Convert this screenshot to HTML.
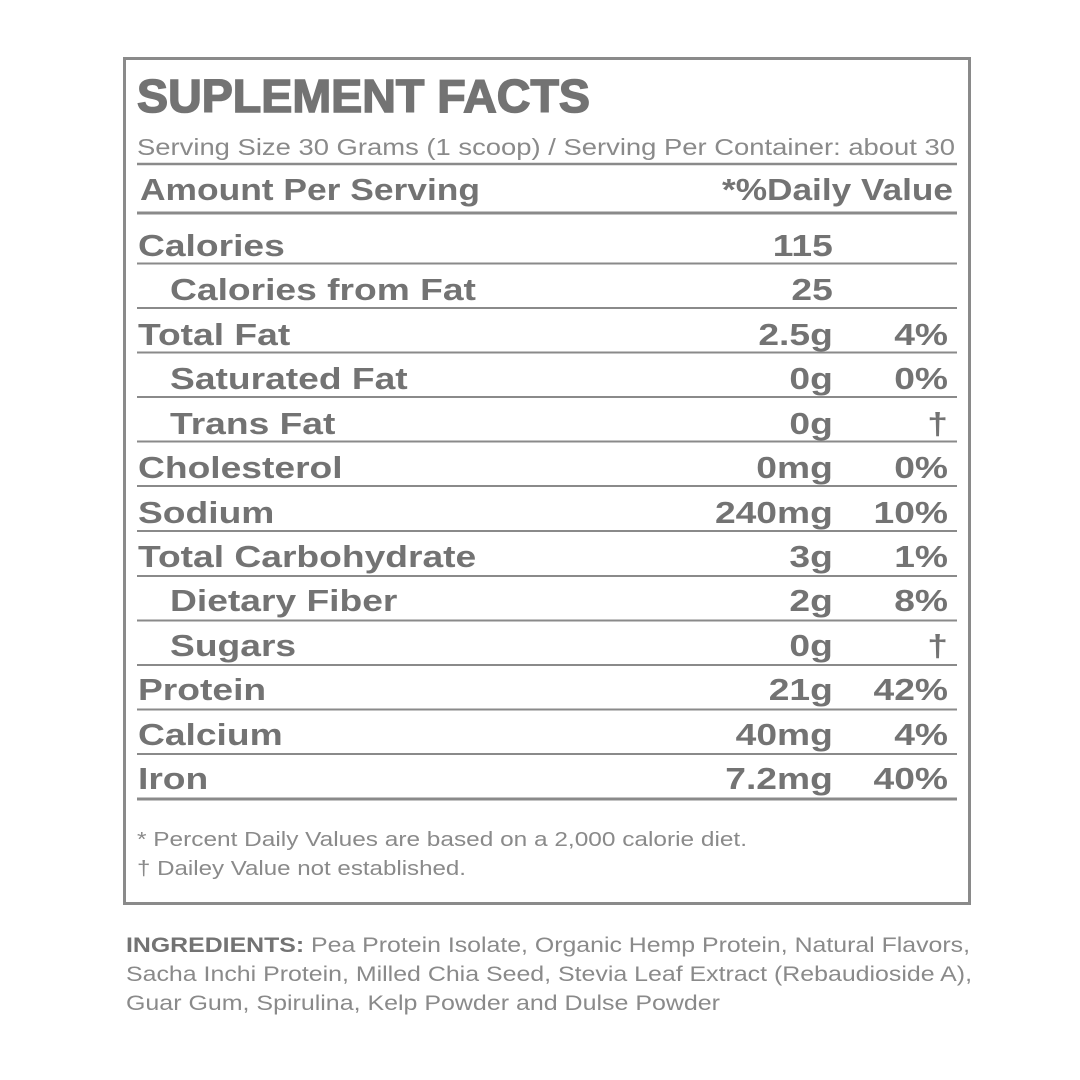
<!DOCTYPE html>
<html><head><meta charset="utf-8"><style>html,body{margin:0;padding:0;background:#fff}svg{display:block}</style></head><body>
<svg width="1080" height="1080" viewBox="0 0 1080 1080" xmlns="http://www.w3.org/2000/svg" font-family="Liberation Sans, sans-serif" fill="#737373">
<rect x="124.5" y="58.5" width="845" height="845" fill="none" stroke="#8a8a8a" stroke-width="3"/>
<text x="137" y="112" font-size="46" font-weight="bold" textLength="453" lengthAdjust="spacingAndGlyphs" stroke="#737373" stroke-width="1.5">SUPLEMENT FACTS</text>
<text x="137" y="155" font-size="23" textLength="818" lengthAdjust="spacingAndGlyphs" fill="#8a8a8a">Serving Size 30 Grams (1 scoop) / Serving Per Container: about 30</text>
<g stroke="#8a8a8a">
<line x1="137" x2="957" y1="164" y2="164" stroke-width="2.5"/>
<line x1="137" x2="957" y1="213" y2="213" stroke-width="3"/>
<line x1="137" x2="957" y1="263.5" y2="263.5" stroke-width="2"/>
<line x1="137" x2="957" y1="308" y2="308" stroke-width="2"/>
<line x1="137" x2="957" y1="352.5" y2="352.5" stroke-width="2"/>
<line x1="137" x2="957" y1="397" y2="397" stroke-width="2"/>
<line x1="137" x2="957" y1="441.5" y2="441.5" stroke-width="2"/>
<line x1="137" x2="957" y1="486" y2="486" stroke-width="2"/>
<line x1="137" x2="957" y1="531" y2="531" stroke-width="2"/>
<line x1="137" x2="957" y1="576" y2="576" stroke-width="2"/>
<line x1="137" x2="957" y1="620.5" y2="620.5" stroke-width="2"/>
<line x1="137" x2="957" y1="665" y2="665" stroke-width="2"/>
<line x1="137" x2="957" y1="709.5" y2="709.5" stroke-width="2"/>
<line x1="137" x2="957" y1="754" y2="754" stroke-width="2"/>
<line x1="137" x2="957" y1="799" y2="799" stroke-width="3"/>
</g>
<g font-size="31" font-weight="bold">
<text x="140" y="200" textLength="340" lengthAdjust="spacingAndGlyphs">Amount Per Serving</text>
<text x="722" y="200" textLength="231" lengthAdjust="spacingAndGlyphs">*%Daily Value</text>
</g>
<g font-size="31" font-weight="bold" transform="scale(1.2,1)">
<text x="115" y="256">Calories</text><text x="694" y="256" text-anchor="end">115</text>
<text x="141.7" y="300">Calories from Fat</text><text x="694" y="300" text-anchor="end">25</text>
<text x="115" y="345">Total Fat</text><text x="694" y="345" text-anchor="end">2.5g</text><text x="790" y="345" text-anchor="end">4%</text>
<text x="141.7" y="389">Saturated Fat</text><text x="694" y="389" text-anchor="end">0g</text><text x="790" y="389" text-anchor="end">0%</text>
<text x="141.7" y="434">Trans Fat</text><text x="694" y="434" text-anchor="end">0g</text><text x="790" y="434" text-anchor="end">†</text>
<text x="115" y="478">Cholesterol</text><text x="694" y="478" text-anchor="end">0mg</text><text x="790" y="478" text-anchor="end">0%</text>
<text x="115" y="523">Sodium</text><text x="694" y="523" text-anchor="end">240mg</text><text x="790" y="523" text-anchor="end">10%</text>
<text x="115" y="567">Total Carbohydrate</text><text x="694" y="567" text-anchor="end">3g</text><text x="790" y="567" text-anchor="end">1%</text>
<text x="141.7" y="611">Dietary Fiber</text><text x="694" y="611" text-anchor="end">2g</text><text x="790" y="611" text-anchor="end">8%</text>
<text x="141.7" y="656">Sugars</text><text x="694" y="656" text-anchor="end">0g</text><text x="790" y="656" text-anchor="end">†</text>
<text x="115" y="700">Protein</text><text x="694" y="700" text-anchor="end">21g</text><text x="790" y="700" text-anchor="end">42%</text>
<text x="115" y="745">Calcium</text><text x="694" y="745" text-anchor="end">40mg</text><text x="790" y="745" text-anchor="end">4%</text>
<text x="115" y="789">Iron</text><text x="694" y="789" text-anchor="end">7.2mg</text><text x="790" y="789" text-anchor="end">40%</text>
</g>
<g font-size="20" fill="#8a8a8a">
<text x="137" y="846" textLength="610" lengthAdjust="spacingAndGlyphs">* Percent Daily Values are based on a 2,000 calorie diet.</text>
<text x="137" y="875" textLength="329" lengthAdjust="spacingAndGlyphs">† Dailey Value not established.</text>
</g>
<g font-size="21" fill="#8a8a8a">
<text x="126" y="952" textLength="844" lengthAdjust="spacingAndGlyphs"><tspan font-weight="bold" fill="#737373">INGREDIENTS:</tspan> Pea Protein Isolate, Organic Hemp Protein, Natural Flavors,</text>
<text x="126" y="981" textLength="846" lengthAdjust="spacingAndGlyphs">Sacha Inchi Protein, Milled Chia Seed, Stevia Leaf Extract (Rebaudioside A),</text>
<text x="126" y="1010" textLength="594" lengthAdjust="spacingAndGlyphs">Guar Gum, Spirulina, Kelp Powder and Dulse Powder</text>
</g>
</svg>
</body></html>
